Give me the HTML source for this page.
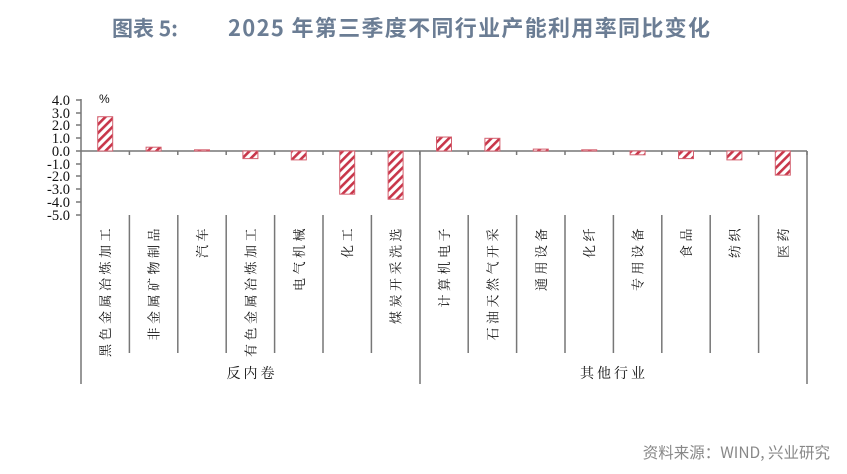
<!DOCTYPE html>
<html><head><meta charset="utf-8"><style>
html,body{margin:0;padding:0;background:#fff;}
svg{display:block;}
</style></head><body>
<svg width="847" height="474" xmlns="http://www.w3.org/2000/svg">
<defs>
<pattern id="h" patternUnits="userSpaceOnUse" width="6" height="6" patternTransform="rotate(45)">
<rect width="6" height="6" fill="#fff"/>
<rect x="0" y="0" width="2.6" height="6" fill="#c8364a"/>
</pattern>
</defs>
<text x="112" y="36" font-family="'Noto Sans CJK SC',sans-serif" font-size="21" font-weight="bold" fill="#6b7d94">图表 5:</text>
<text x="228" y="36" font-family="'Noto Sans CJK SC',sans-serif" font-size="22" font-weight="bold" fill="#6b7d94" textLength="482">2025 年第三季度不同行业产能利用率同比变化</text>
<text x="830" y="458" text-anchor="end" font-family="'Noto Sans CJK SC',sans-serif" font-size="15.5" fill="#888">资料来源：WIND, 兴业研究</text>

<g font-family="'Liberation Serif',serif" font-size="14.5" fill="#111" text-anchor="end">
<text x="70" y="105">4.0</text><text x="70" y="118">3.0</text><text x="70" y="130">2.0</text><text x="70" y="143">1.0</text><text x="70" y="156">0.0</text><text x="70" y="169">-1.0</text><text x="70" y="181">-2.0</text><text x="70" y="194">-3.0</text><text x="70" y="207">-4.0</text><text x="70" y="220">-5.0</text>
</g>
<text x="99" y="103" font-family="'Liberation Sans',sans-serif" font-size="12" fill="#111">%</text>

<g stroke="#777" stroke-width="1.5">
<line x1="81" y1="99" x2="81" y2="384"/>
<line x1="76" y1="100" x2="81" y2="100"/><line x1="76" y1="113" x2="81" y2="113"/><line x1="76" y1="125" x2="81" y2="125"/><line x1="76" y1="138" x2="81" y2="138"/><line x1="76" y1="151" x2="81" y2="151"/><line x1="76" y1="164" x2="81" y2="164"/><line x1="76" y1="176" x2="81" y2="176"/><line x1="76" y1="189" x2="81" y2="189"/><line x1="76" y1="202" x2="81" y2="202"/><line x1="76" y1="215" x2="81" y2="215"/>
<line x1="81" y1="151" x2="807" y2="151"/>
<line x1="420" y1="151" x2="420" y2="384"/>
<line x1="807" y1="151" x2="807" y2="384"/>
</g>
<g stroke="#777" stroke-width="1.5" id="ticks"></g>

<g id="bars"></g>
<g id="labels" font-family="'Liberation Serif','Noto Serif CJK SC',serif" font-size="13" fill="#111" letter-spacing="3.5"></g>
<g font-family="'Liberation Serif','Noto Serif CJK SC',serif" font-size="14" fill="#111" letter-spacing="3" text-anchor="middle">
<text x="252" y="378">反内卷</text>
<text x="614" y="378">其他行业</text>
</g>
<script>
var names=["黑色金属冶炼加工","非金属矿物制品","汽车","有色金属冶炼加工","电气机械","化工","煤炭开采洗选","计算机电子","石油天然气开采","通用设备","化纤","专用设备","食品","纺织","医药"];
var vals=[2.7,0.3,0.05,-0.6,-0.7,-3.4,-3.8,1.1,1.0,0.15,0.05,-0.3,-0.6,-0.7,-1.9];
var ns="http://www.w3.org/2000/svg",w=48.4,z=151,u=12.7;
var B=document.getElementById("bars"),L=document.getElementById("labels"),T=document.getElementById("ticks");
for(var i=0;i<15;i++){
 var cx=81+w*(i+0.5),v=vals[i],h=Math.max(Math.abs(v)*u,1.2),y=v>0?z-h:z;
 var r=document.createElementNS(ns,"rect");
 r.setAttribute("x",cx-7.5);r.setAttribute("y",y);r.setAttribute("width",15);r.setAttribute("height",h);
 r.setAttribute("fill","url(#h)");r.setAttribute("stroke","#d4606f");r.setAttribute("stroke-width","1");
 B.appendChild(r);
 var t=document.createElementNS(ns,"text");
 t.setAttribute("transform","translate("+(cx+5)+",225) rotate(-90)");
 t.setAttribute("text-anchor","end");t.textContent=names[i];L.appendChild(t);
 var xe=81+w*(i+1);
 var tk=document.createElementNS(ns,"line");
 tk.setAttribute("x1",xe);tk.setAttribute("x2",xe);tk.setAttribute("y1",151);tk.setAttribute("y2",155);T.appendChild(tk);
 if(i<14&&i!=6){var d=document.createElementNS(ns,"line");
 d.setAttribute("x1",xe);d.setAttribute("x2",xe);d.setAttribute("y1",215);d.setAttribute("y2",353);T.appendChild(d);}
}
</script>
</svg>
</body></html>
